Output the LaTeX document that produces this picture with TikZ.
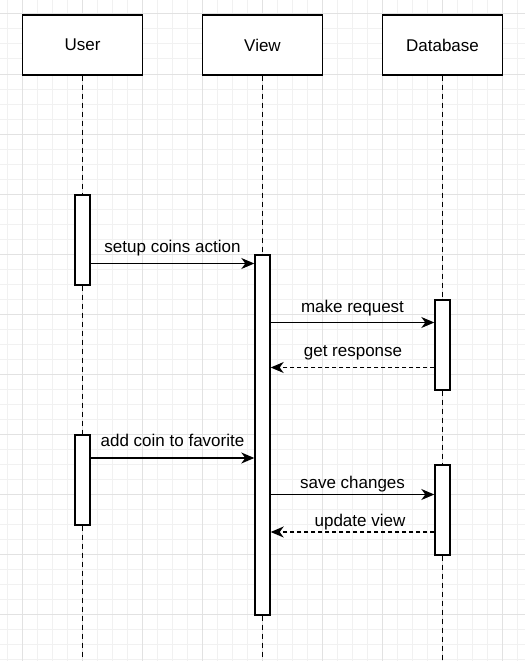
\documentclass[tikz,border=0pt]{standalone}
\usepackage{fontspec}
\setmainfont{Liberation Sans}
\usetikzlibrary{arrows.meta}
\definecolor{gridminor}{HTML}{F1F1F1}
\definecolor{gridmajor}{HTML}{E2E2E2}
\tikzset{
  head/.style={draw, line width=1.4pt, fill=white, minimum width=120pt, minimum height=60pt, inner sep=0pt, font=\fontsize{17pt}{20pt}\selectfont},
  act/.style={draw, line width=1.4pt, fill=white, minimum width=15pt, inner sep=0pt},
  life/.style={line width=1.4pt, dash pattern=on 5pt off 4pt},
  msg/.style={line width=1.3pt, -{Stealth[length=13pt, width=11pt, inset=4pt]}},
  ret/.style={line width=1.3pt, dash pattern=on 4pt off 3pt, -{Stealth[length=13pt, width=11pt, inset=4pt]}},
  lbl/.style={anchor=base, inner sep=0pt, font=\fontsize{17pt}{20pt}\selectfont},
}
\begin{document}
\begin{tikzpicture}[x=1pt, y=-1pt]
\useasboundingbox (0,0) rectangle (525,661);
\fill[white] (0,0) rectangle (525,661);
% grid
\foreach \i in {0,...,34} {
  \draw[gridminor, line width=1pt] (7+15*\i,0) -- (7+15*\i,661);
}
\foreach \i in {0,...,44} {
  \draw[gridminor, line width=1pt] (0,-1+15*\i) -- (525,-1+15*\i);
}
\foreach \i in {0,...,8} {
  \draw[gridmajor, line width=1pt] (22+60*\i,0) -- (22+60*\i,661);
}
\foreach \i in {0,...,10} {
  \draw[gridmajor, line width=1pt] (0,14+60*\i) -- (525,14+60*\i);
}
% headers
\node[head] (user) at (82.5,45) {User};
\node[head] (view) at (262.5,45) {View};
\node[head] (db) at (442.5,45) {Database};
% lifeline ends
\coordinate (userend) at (82.5,661);
\coordinate (viewend) at (262.5,661);
\coordinate (dbend) at (442.5,661);
% activations
\node[act, minimum height=90pt] (ua1) at (82.5,240) {};
\node[act, minimum height=90pt] (ua2) at (82.5,480) {};
\node[act, minimum height=360pt] (va) at (262.5,435) {};
\node[act, minimum height=90pt] (da1) at (442.5,345) {};
\node[act, minimum height=90pt] (da2) at (442.5,510) {};
% lifelines
\draw[life] (user.south) -- (ua1.north);
\draw[life] (ua1.south) -- (ua2.north);
\draw[life] (ua2.south) -- (userend);
\draw[life] (view.south) -- (va.north);
\draw[life] (va.south) -- (viewend);
\draw[life] (db.south) -- (da1.north);
\draw[life] (da1.south) -- (da2.north);
\draw[life] (da2.south) -- (dbend);
% message rows
\coordinate (m1) at (0,263.5);
\coordinate (m2) at (0,322.5);
\coordinate (m3) at (0,367.5);
\coordinate (m4) at (0,458);
\coordinate (m5) at (0,494.5);
\coordinate (m6) at (0,532);
\draw[msg] (ua1.east |- m1) -- (va.west |- m1);
\draw[msg] (va.east |- m2) -- (da1.west |- m2);
\draw[ret] (da1.west |- m3) -- (va.east |- m3);
\draw[msg] (ua2.east |- m4) -- (va.west |- m4);
\draw[msg] (va.east |- m5) -- (da2.west |- m5);
\draw[ret] (da2.west |- m6) -- (va.east |- m6);
% labels
\node[lbl] (l1) at (172.5,252.5) {setup coins action};
\node[lbl] (l2) at (352.5,312.5) {make request};
\node[lbl] (l3) at (353,356.5) {get response};
\node[lbl] (l4) at (172.5,446.5) {add coin to favorite};
\node[lbl] (l5) at (352.5,488.5) {save changes};
\node[lbl] (l6) at (360,526) {update view};
\end{tikzpicture}
\end{document}
